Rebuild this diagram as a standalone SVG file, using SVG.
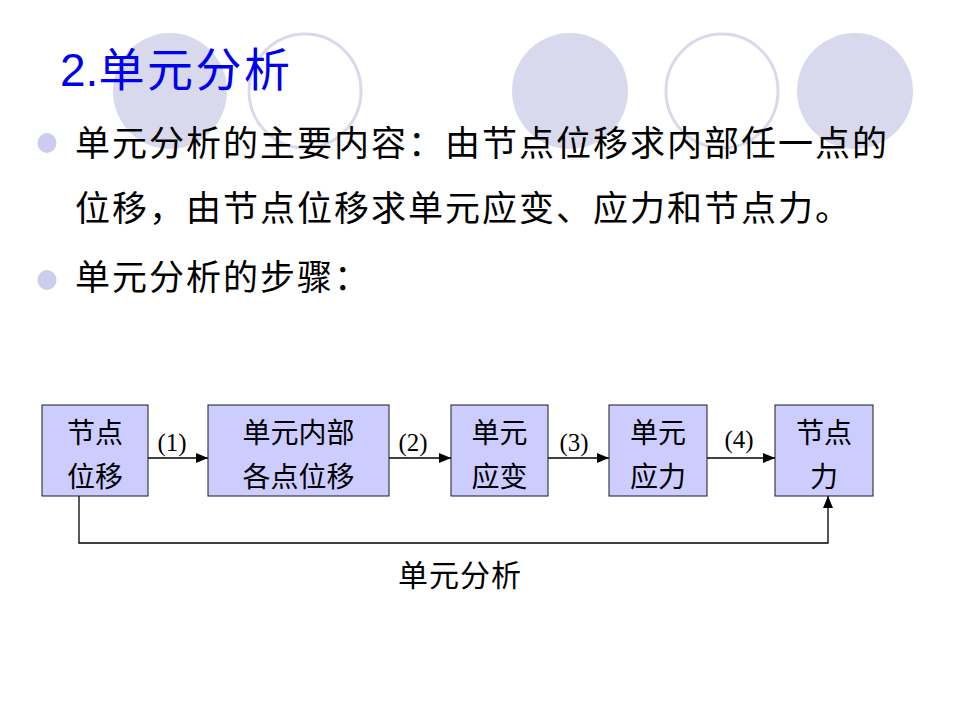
<svg xmlns="http://www.w3.org/2000/svg" width="960" height="720" viewBox="0 0 960 720">
<style>
.bgf{fill:#D9D9EE;}
.bgo{fill:#FFFFFF;stroke:#D9D9EE;stroke-width:3;}
.bul{fill:#CCCCEE;}
.body{font-family:"Noto Sans CJK SC","Noto Sans",sans-serif;font-size:35px;fill:#000;letter-spacing:2px;}
.box{fill:#CCCCFF;stroke:#1A1A1A;stroke-width:1;}
.bt{font-family:"Noto Sans CJK SC","Noto Sans",sans-serif;font-size:28px;fill:#000;text-anchor:middle;}
.lab{font-family:"Liberation Serif","Times New Roman",serif;font-size:25px;fill:#000;text-anchor:middle;}
.con{fill:none;stroke:#000;stroke-width:1.3;}
</style>
<defs>
<marker id="ah" markerWidth="12" markerHeight="10" refX="12" refY="5" orient="auto" markerUnits="userSpaceOnUse">
<path d="M0,0 L12,5 L0,10 Z" fill="#000"/>
</marker>
</defs>
<rect width="960" height="720" fill="#FFFFFF"/>
<g id="background">
<ellipse class="bgf" cx="170" cy="91" rx="57" ry="58"/>
<ellipse class="bgo" cx="305" cy="91" rx="56" ry="57"/>
<ellipse class="bgf" cx="570" cy="91" rx="58" ry="58"/>
<ellipse class="bgo" cx="722" cy="91" rx="56" ry="57"/>
<ellipse class="bgf" cx="855" cy="91" rx="58" ry="58"/>
</g>
<g id="title">
<text x="60" y="86" fill="#0000F0" font-size="46" font-family="'Liberation Sans',Arial,sans-serif">2.<tspan font-family="'Noto Sans CJK SC',sans-serif" letter-spacing="2.5">单元分析</tspan></text>
</g>
<g id="bullets">
<ellipse class="bul" cx="47" cy="143" rx="9.5" ry="10"/>
<ellipse class="bul" cx="47" cy="280" rx="9.5" ry="10"/>
<text class="body" x="75" y="156">单元分析的主要内容：由节点位移求内部任一点的</text>
<text class="body" x="75" y="221">位移，由节点位移求单元应变、应力和节点力。</text>
<text class="body" x="75" y="290">单元分析的步骤：</text>
</g>
<g id="connectors">
<line class="con" x1="148" y1="458" x2="208" y2="458" marker-end="url(#ah)"/>
<line class="con" x1="389" y1="458" x2="451" y2="458" marker-end="url(#ah)"/>
<line class="con" x1="548" y1="458" x2="609" y2="458" marker-end="url(#ah)"/>
<line class="con" x1="707" y1="458" x2="775" y2="458" marker-end="url(#ah)"/>
<polyline class="con" points="79,496 79,543 828,543 828,496" marker-end="url(#ah)"/>
<text class="lab" x="172" y="451">(1)</text>
<text class="lab" x="413" y="451">(2)</text>
<text class="lab" x="574" y="451">(3)</text>
<text class="lab" x="739" y="448">(4)</text>
<text x="398" y="586" font-family="'Noto Sans CJK SC',sans-serif" font-size="30" letter-spacing="1">单元分析</text>
</g>
<g id="n1">
<rect class="box" x="42" y="405" width="106" height="91"/>
<text class="bt" x="95" y="443">节点</text>
<text class="bt" x="95" y="487">位移</text>
</g>
<g id="n2">
<rect class="box" x="208" y="405" width="181" height="91"/>
<text class="bt" x="298.5" y="443">单元内部</text>
<text class="bt" x="298.5" y="487">各点位移</text>
</g>
<g id="n3">
<rect class="box" x="451" y="405" width="97" height="91"/>
<text class="bt" x="499.5" y="443">单元</text>
<text class="bt" x="499.5" y="487">应变</text>
</g>
<g id="n4">
<rect class="box" x="609" y="405" width="98" height="91"/>
<text class="bt" x="658" y="443">单元</text>
<text class="bt" x="658" y="487">应力</text>
</g>
<g id="n5">
<rect class="box" x="775" y="405" width="98" height="91"/>
<text class="bt" x="824" y="443">节点</text>
<text class="bt" x="824" y="487">力</text>
</g>
</svg>
